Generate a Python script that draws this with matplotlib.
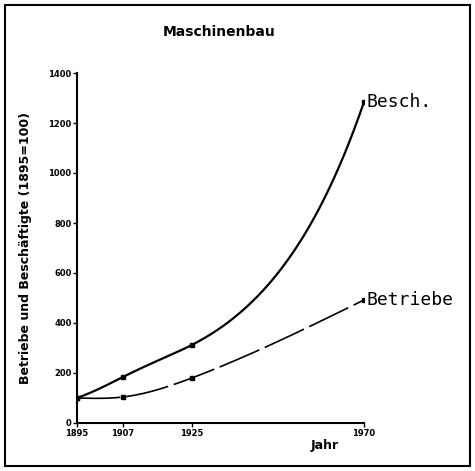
import numpy as np
import matplotlib
matplotlib.use("Agg")
import matplotlib.pyplot as plt
from matplotlib.patches import Rectangle

years = [1895, 1907, 1925, 1970]
xtick_labels = ["1895", "1907", "1925", "1970"]
besch = [100, 184, 312, 1284]
betriebe = [100, 104, 180, 492]
yticks = [0, 200, 400, 600, 800, 1000, 1200, 1400]

fig = plt.figure(figsize=(4.75, 4.71), dpi=100)
fig.patches.append(Rectangle((5/475, 5/471), 465/475, 461/471, transform=fig.transFigure,
                             fill=False, edgecolor="black", linewidth=1.5))
ax = fig.add_axes([77/475, 48/471, 287/475, 350/471])

def spline(xs, ys):
    # natural cubic spline through the points
    x = np.asarray(xs, float); y = np.asarray(ys, float)
    n = len(x); h = np.diff(x)
    A = np.zeros((n, n)); b = np.zeros(n)
    A[0, 0] = 1; A[-1, -1] = 1
    for i in range(1, n - 1):
        A[i, i - 1] = h[i - 1]; A[i, i] = 2 * (h[i - 1] + h[i]); A[i, i + 1] = h[i]
        b[i] = 6 * ((y[i + 1] - y[i]) / h[i] - (y[i] - y[i - 1]) / h[i - 1])
    M = np.linalg.solve(A, b)
    xx = np.linspace(x[0], x[-1], 400)
    yy = np.empty_like(xx)
    for k, t in enumerate(xx):
        i = min(np.searchsorted(x, t, side="right") - 1, n - 2)
        a = x[i + 1] - t; c = t - x[i]
        yy[k] = (M[i] * a**3 + M[i + 1] * c**3) / (6 * h[i]) + \
                (y[i] / h[i] - M[i] * h[i] / 6) * a + (y[i + 1] / h[i] - M[i + 1] * h[i] / 6) * c
    return xx, yy

xx, ly = spline(years, np.log(besch))
ax.plot(xx, np.exp(ly), color="black", lw=1.6, solid_capstyle="butt")
ax.plot(years, besch, ls="none", marker="s", ms=2.5, color="black")
xx, yy = spline(years, betriebe)
ax.plot(xx, yy, color="black", lw=1.2, dashes=(26, 3.5))
ax.plot(years, betriebe, ls="none", marker="s", ms=2.5, color="black")

ax.text(years[-1] + 0.6, besch[-1], "Besch.", family="DejaVu Sans Mono", fontsize=13, va="center", ha="left")
ax.text(years[-1] + 0.6, betriebe[-1], "Betriebe", family="DejaVu Sans Mono", fontsize=13, va="center", ha="left")

ax.set_xlim(1895, 1970)
ax.set_ylim(0, 1400)
ax.set_xticks(years)
ax.set_xticklabels(xtick_labels, fontsize=6, fontweight="bold")
ax.set_yticks(yticks)
ax.set_yticklabels([str(v) for v in yticks], fontsize=6, fontweight="bold")
ax.tick_params(axis="both", length=3, width=1, pad=1)
for s in ["top", "right"]:
    ax.spines[s].set_visible(False)
for s in ["left", "bottom"]:
    ax.spines[s].set_linewidth(1.5)
ax.set_ylabel("Betriebe und Beschäftigte (1895=100)", fontsize=9, fontweight="bold", labelpad=12)
fig.text(325/475, 1 - 445/471, "Jahr", fontsize=9, fontweight="bold", ha="center", va="center")
fig.text(219/475, 1 - 32/471, "Maschinenbau", fontsize=10, fontweight="bold", ha="center", va="center")

fig.savefig("out.png", dpi=100)
